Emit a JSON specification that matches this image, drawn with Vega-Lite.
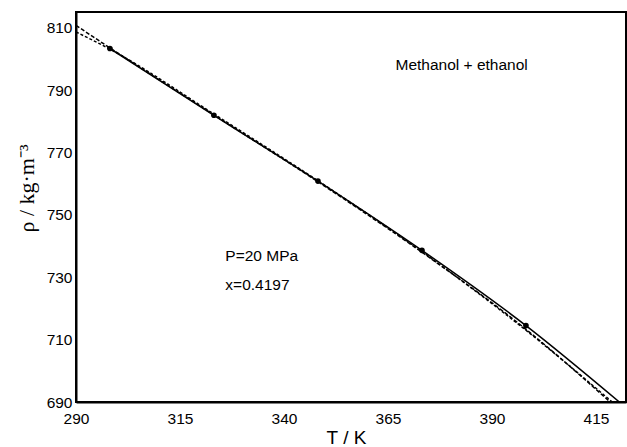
{
  "$schema": "https://vega.github.io/schema/vega-lite/v6.json",
  "width": 550,
  "height": 390,
  "autosize": "none",
  "padding": {"left": 76, "top": 12, "right": 1, "bottom": 45},
  "background": "white",
  "config": {
    "view": {"stroke": "#000", "strokeWidth": 2},
    "axis": {
      "grid": false,
      "ticks": false,
      "domain": true,
      "domainColor": "#000",
      "domainWidth": 2,
      "labelFont": "Liberation Sans",
      "labelFontSize": 15.5,
      "labelColor": "#000",
      "titleFont": "Liberation Sans",
      "titleColor": "#000",
      "titleFontWeight": "normal"
    }
  },
  "datasets": {
    "points": [
      {"T": 298.15, "rho": 803.3},
      {"T": 323.15, "rho": 781.9},
      {"T": 348.15, "rho": 760.8},
      {"T": 373.15, "rho": 738.6},
      {"T": 398.15, "rho": 714.5}
    ],
    "solid": [
      {"T": 298.15, "rho": 803.3},
      {"T": 323.15, "rho": 781.9},
      {"T": 348.15, "rho": 760.8},
      {"T": 373.15, "rho": 738.6},
      {"T": 398.15, "rho": 714.5},
      {"T": 420.6, "rho": 690}
    ],
    "dashA": [
      {"T": 290, "rho": 810.7},
      {"T": 298.15, "rho": 803.5},
      {"T": 323.15, "rho": 782.0},
      {"T": 348.15, "rho": 760.6},
      {"T": 373.15, "rho": 738.0},
      {"T": 398.15, "rho": 713.3},
      {"T": 418.4, "rho": 690}
    ],
    "dashB": [
      {"T": 290, "rho": 808.6},
      {"T": 298.15, "rho": 803.1},
      {"T": 323.15, "rho": 782.3},
      {"T": 348.15, "rho": 760.9},
      {"T": 373.15, "rho": 738.2},
      {"T": 398.15, "rho": 713.0},
      {"T": 418.9, "rho": 690}
    ],
    "labels": [
      {"T": 366.8, "rho": 797.9, "text": "Methanol + ethanol"},
      {"T": 325.9, "rho": 736.8, "text": "P=20 MPa"},
      {"T": 325.9, "rho": 727.4, "text": "x=0.4197"}
    ],
    "xmajor": [{"T": 315}, {"T": 340}, {"T": 365}, {"T": 390}, {"T": 415}],
    "xminor": [{"T": 302.5}, {"T": 327.5}, {"T": 352.5}, {"T": 377.5}, {"T": 402.5}],
    "ymajor": [{"rho": 710}, {"rho": 730}, {"rho": 750}, {"rho": 770}, {"rho": 790}, {"rho": 810}],
    "yminor": [{"rho": 700}, {"rho": 720}, {"rho": 740}, {"rho": 760}, {"rho": 780}, {"rho": 800}]
  },
  "encoding": {
    "x": {
      "field": "T",
      "type": "quantitative",
      "scale": {"domain": [290, 422.2], "nice": false, "zero": false},
      "axis": {
        "title": "T / K",
        "titleFontSize": 19,
        "titleX": 270,
        "titleY": 35,
        "titleAlign": "center",
        "titleBaseline": "middle",
        "values": [290, 315, 340, 365, 390, 415],
        "labelPadding": 9,
        "labelFlush": false,
        "labelOverlap": false
      }
    },
    "y": {
      "field": "rho",
      "type": "quantitative",
      "scale": {"domain": [690, 815], "nice": false, "zero": false},
      "axis": {
        "title": "ρ / kg·m⁻³",
        "titleFont": "Liberation Serif",
        "titleFontSize": 22,
        "titleAngle": 270,
        "titleX": -50,
        "titleY": 176,
        "titleAlign": "center",
        "titleBaseline": "middle",
        "values": [690, 710, 730, 750, 770, 790, 810],
        "labelPadding": 4,
        "labelFlush": false,
        "labelOverlap": false
      }
    }
  },
  "layer": [
    {
      "data": {"name": "xmajor"},
      "mark": {"type": "rule", "color": "#000", "strokeWidth": 1.8},
      "encoding": {"y": {"datum": 690, "type": "quantitative"}, "y2": {"datum": 692.7}}
    },
    {
      "data": {"name": "xminor"},
      "mark": {"type": "rule", "color": "#000", "strokeWidth": 1.8},
      "encoding": {"y": {"datum": 690, "type": "quantitative"}, "y2": {"datum": 691.8}}
    },
    {
      "data": {"name": "ymajor"},
      "mark": {"type": "rule", "color": "#000", "strokeWidth": 1.8},
      "encoding": {"x": {"datum": 290, "type": "quantitative"}, "x2": {"datum": 292}}
    },
    {
      "data": {"name": "yminor"},
      "mark": {"type": "rule", "color": "#000", "strokeWidth": 1.8},
      "encoding": {"x": {"datum": 290, "type": "quantitative"}, "x2": {"datum": 291.4}}
    },
    {
      "data": {"name": "dashA"},
      "mark": {"type": "line", "color": "#000", "strokeWidth": 1.5, "strokeDash": [4, 2], "interpolate": "monotone", "clip": true}
    },
    {
      "data": {"name": "dashB"},
      "mark": {"type": "line", "color": "#000", "strokeWidth": 1.5, "strokeDash": [3, 2], "interpolate": "monotone", "clip": true}
    },
    {
      "data": {"name": "solid"},
      "mark": {"type": "line", "color": "#000", "strokeWidth": 1.5, "interpolate": "monotone", "clip": true}
    },
    {
      "data": {"name": "points"},
      "mark": {"type": "point", "filled": true, "color": "#000", "opacity": 1, "size": 32}
    },
    {
      "data": {"name": "labels"},
      "mark": {"type": "text", "align": "left", "baseline": "middle", "font": "Liberation Sans", "fontSize": 15.5, "color": "#000"},
      "encoding": {"text": {"field": "text", "type": "nominal"}}
    }
  ]
}
